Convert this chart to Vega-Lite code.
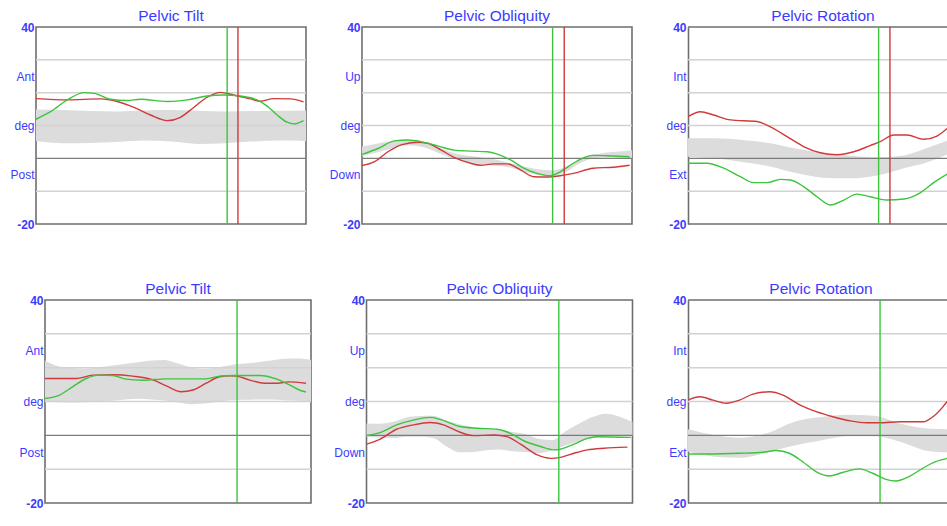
{
  "$schema": "https://vega.github.io/schema/vega-lite/v6.json",
  "background": "white",
  "padding": {"left": 9, "top": 7, "right": 0, "bottom": 0},
  "config": {
    "view": {"stroke": "#6e6e6e", "strokeWidth": 1.6},
    "title": {"color": "#3b3bff", "font": "Liberation Sans", "fontSize": 15.5, "fontWeight": "normal", "offset": 2, "dy": 5},
    "axis": {"labelFont": "Liberation Sans", "labelFontSize": 12, "labelColor": "#3b3bff", "ticks": false, "domain": false, "grid": false, "labelPadding": 2}
  },
  "datasets": {
    "grid": [
      {"y": 30, "kind": "minor"}, {"y": 20, "kind": "minor"}, {"y": 10, "kind": "minor"}, {"y": -10, "kind": "minor"},
      {"y": 0, "kind": "zero"}, {"y": 40, "kind": "border"}, {"y": -20, "kind": "border"}
    ],
    "events": [
      {"p": "A", "s": "L", "x": 70.8}, {"p": "A", "s": "R", "x": 74.8},
      {"p": "B", "s": "L", "x": 70.6}, {"p": "B", "s": "R", "x": 74.9},
      {"p": "C", "s": "L", "x": 70.6}, {"p": "C", "s": "R", "x": 74.8},
      {"p": "D", "s": "L", "x": 72.2},
      {"p": "E", "s": "L", "x": 72.3},
      {"p": "F", "s": "L", "x": 72.2}
    ],
    "band": [
      {"p": "A", "x": 0, "hi": 14.9, "lo": 5.3}, {"p": "A", "x": 10, "hi": 14.7, "lo": 4.6}, {"p": "A", "x": 20, "hi": 14.4, "lo": 4.7}, {"p": "A", "x": 30, "hi": 14.3, "lo": 5.0}, {"p": "A", "x": 40, "hi": 14.6, "lo": 5.4}, {"p": "A", "x": 50, "hi": 14.7, "lo": 5.1}, {"p": "A", "x": 60, "hi": 14.5, "lo": 4.4}, {"p": "A", "x": 70, "hi": 14.3, "lo": 4.6}, {"p": "A", "x": 80, "hi": 14.4, "lo": 5.1}, {"p": "A", "x": 90, "hi": 14.5, "lo": 5.4}, {"p": "A", "x": 100, "hi": 14.6, "lo": 5.3},
      {"p": "B", "x": 0, "hi": 3.6, "lo": 0.7}, {"p": "B", "x": 5, "hi": 4.4, "lo": 1.7}, {"p": "B", "x": 10, "hi": 5.1, "lo": 2.8}, {"p": "B", "x": 15, "hi": 5.6, "lo": 4.0}, {"p": "B", "x": 20, "hi": 5.3, "lo": 3.8}, {"p": "B", "x": 25, "hi": 4.2, "lo": 2.8}, {"p": "B", "x": 30, "hi": 2.8, "lo": 1.1}, {"p": "B", "x": 35, "hi": 1.4, "lo": -0.3}, {"p": "B", "x": 40, "hi": 0.7, "lo": -1.3}, {"p": "B", "x": 45, "hi": 0.2, "lo": -1.9}, {"p": "B", "x": 50, "hi": -0.4, "lo": -2.3}, {"p": "B", "x": 55, "hi": -1.5, "lo": -2.8}, {"p": "B", "x": 60, "hi": -2.5, "lo": -4.1}, {"p": "B", "x": 65, "hi": -3.3, "lo": -5.1}, {"p": "B", "x": 70, "hi": -3.6, "lo": -5.5}, {"p": "B", "x": 75, "hi": -2.8, "lo": -4.4}, {"p": "B", "x": 80, "hi": -0.6, "lo": -1.8}, {"p": "B", "x": 85, "hi": 1.0, "lo": -0.1}, {"p": "B", "x": 90, "hi": 1.7, "lo": 0.3}, {"p": "B", "x": 95, "hi": 2.1, "lo": 0.2}, {"p": "B", "x": 100, "hi": 2.5, "lo": 0.1},
      {"p": "C", "x": 0, "hi": 6.1, "lo": 0.5}, {"p": "C", "x": 10, "hi": 6.1, "lo": 0.0}, {"p": "C", "x": 20, "hi": 5.6, "lo": -1.1}, {"p": "C", "x": 30, "hi": 4.7, "lo": -2.4}, {"p": "C", "x": 40, "hi": 3.0, "lo": -4.5}, {"p": "C", "x": 50, "hi": 1.6, "lo": -5.9}, {"p": "C", "x": 60, "hi": 0.8, "lo": -6.1}, {"p": "C", "x": 70, "hi": 0.3, "lo": -5.2}, {"p": "C", "x": 80, "hi": 0.9, "lo": -3.0}, {"p": "C", "x": 90, "hi": 3.6, "lo": -0.8}, {"p": "C", "x": 96, "hi": 5.4, "lo": 1.2},
      {"p": "D", "x": 0, "hi": 22.1, "lo": 10.0}, {"p": "D", "x": 5, "hi": 20.4, "lo": 9.8}, {"p": "D", "x": 10, "hi": 19.9, "lo": 9.7}, {"p": "D", "x": 15, "hi": 19.7, "lo": 9.8}, {"p": "D", "x": 20, "hi": 20.1, "lo": 9.9}, {"p": "D", "x": 25, "hi": 20.6, "lo": 10.2}, {"p": "D", "x": 30, "hi": 21.1, "lo": 10.6}, {"p": "D", "x": 35, "hi": 21.6, "lo": 10.8}, {"p": "D", "x": 40, "hi": 22.1, "lo": 10.6}, {"p": "D", "x": 45, "hi": 22.3, "lo": 10.3}, {"p": "D", "x": 50, "hi": 21.2, "lo": 9.7}, {"p": "D", "x": 55, "hi": 20.1, "lo": 9.2}, {"p": "D", "x": 60, "hi": 19.6, "lo": 9.4}, {"p": "D", "x": 65, "hi": 20.1, "lo": 9.9}, {"p": "D", "x": 70, "hi": 20.8, "lo": 10.4}, {"p": "D", "x": 75, "hi": 21.2, "lo": 10.5}, {"p": "D", "x": 80, "hi": 21.6, "lo": 10.6}, {"p": "D", "x": 85, "hi": 22.1, "lo": 10.6}, {"p": "D", "x": 90, "hi": 22.6, "lo": 10.4}, {"p": "D", "x": 95, "hi": 22.7, "lo": 10.2}, {"p": "D", "x": 100, "hi": 22.3, "lo": 10.1},
      {"p": "E", "x": 0, "hi": 3.5, "lo": -0.4}, {"p": "E", "x": 5, "hi": 3.4, "lo": -0.7}, {"p": "E", "x": 10, "hi": 4.0, "lo": -0.8}, {"p": "E", "x": 15, "hi": 5.3, "lo": -0.4}, {"p": "E", "x": 20, "hi": 5.7, "lo": -0.4}, {"p": "E", "x": 25, "hi": 5.8, "lo": -0.8}, {"p": "E", "x": 30, "hi": 4.3, "lo": -3.2}, {"p": "E", "x": 35, "hi": 3.3, "lo": -5.0}, {"p": "E", "x": 40, "hi": 2.4, "lo": -4.9}, {"p": "E", "x": 45, "hi": 2.0, "lo": -4.4}, {"p": "E", "x": 50, "hi": 1.6, "lo": -4.2}, {"p": "E", "x": 55, "hi": 1.0, "lo": -4.7}, {"p": "E", "x": 60, "hi": 0.3, "lo": -4.9}, {"p": "E", "x": 65, "hi": -1.1, "lo": -5.2}, {"p": "E", "x": 70, "hi": -1.4, "lo": -4.4}, {"p": "E", "x": 75, "hi": 1.3, "lo": -2.9}, {"p": "E", "x": 80, "hi": 3.5, "lo": -1.8}, {"p": "E", "x": 85, "hi": 5.4, "lo": -0.8}, {"p": "E", "x": 90, "hi": 6.4, "lo": -0.3}, {"p": "E", "x": 95, "hi": 5.6, "lo": -0.2}, {"p": "E", "x": 100, "hi": 4.0, "lo": -0.2},
      {"p": "F", "x": 0, "hi": 1.8, "lo": -4.8}, {"p": "F", "x": 10, "hi": 0.1, "lo": -6.3}, {"p": "F", "x": 20, "hi": -0.7, "lo": -6.6}, {"p": "F", "x": 30, "hi": 0.7, "lo": -5.0}, {"p": "F", "x": 40, "hi": 4.0, "lo": -3.0}, {"p": "F", "x": 50, "hi": 5.4, "lo": -1.5}, {"p": "F", "x": 60, "hi": 6.1, "lo": -0.3}, {"p": "F", "x": 70, "hi": 5.8, "lo": -0.3}, {"p": "F", "x": 80, "hi": 3.4, "lo": -2.0}, {"p": "F", "x": 90, "hi": 2.0, "lo": -4.6}, {"p": "F", "x": 97.4, "hi": 1.8, "lo": -5.0}
    ],
    "curves": [
      {"p": "A", "s": "R", "x": 0, "y": 18.2}, {"p": "A", "s": "R", "x": 11.6, "y": 17.8}, {"p": "A", "s": "R", "x": 23.9, "y": 18.1}, {"p": "A", "s": "R", "x": 30.1, "y": 17.3}, {"p": "A", "s": "R", "x": 36.3, "y": 15.5}, {"p": "A", "s": "R", "x": 42.4, "y": 13.2}, {"p": "A", "s": "R", "x": 48.6, "y": 11.5}, {"p": "A", "s": "R", "x": 53.5, "y": 12.5}, {"p": "A", "s": "R", "x": 58.4, "y": 15.5}, {"p": "A", "s": "R", "x": 63.4, "y": 18.6}, {"p": "A", "s": "R", "x": 68.3, "y": 20.1}, {"p": "A", "s": "R", "x": 73.2, "y": 19.3}, {"p": "A", "s": "R", "x": 79.4, "y": 18.1}, {"p": "A", "s": "R", "x": 83.1, "y": 17.4}, {"p": "A", "s": "R", "x": 88.0, "y": 18.2}, {"p": "A", "s": "R", "x": 94.2, "y": 18.1}, {"p": "A", "s": "R", "x": 99.1, "y": 17.2},
      {"p": "A", "s": "L", "x": 0, "y": 11.9}, {"p": "A", "s": "L", "x": 5.4, "y": 14.2}, {"p": "A", "s": "L", "x": 11.6, "y": 17.8}, {"p": "A", "s": "L", "x": 17.8, "y": 20.0}, {"p": "A", "s": "L", "x": 21.5, "y": 19.8}, {"p": "A", "s": "L", "x": 27.6, "y": 18.0}, {"p": "A", "s": "L", "x": 33.8, "y": 17.6}, {"p": "A", "s": "L", "x": 38.7, "y": 18.0}, {"p": "A", "s": "L", "x": 48.6, "y": 17.3}, {"p": "A", "s": "L", "x": 56.0, "y": 17.8}, {"p": "A", "s": "L", "x": 63.4, "y": 19.0}, {"p": "A", "s": "L", "x": 69.5, "y": 19.3}, {"p": "A", "s": "L", "x": 75.7, "y": 19.0}, {"p": "A", "s": "L", "x": 81.9, "y": 17.8}, {"p": "A", "s": "L", "x": 85.6, "y": 15.9}, {"p": "A", "s": "L", "x": 89.3, "y": 13.2}, {"p": "A", "s": "L", "x": 93.0, "y": 11.0}, {"p": "A", "s": "L", "x": 95.5, "y": 10.5}, {"p": "A", "s": "L", "x": 99.1, "y": 11.5},
      {"p": "B", "s": "R", "x": 0, "y": -2.2}, {"p": "B", "s": "R", "x": 4.7, "y": -1.0}, {"p": "B", "s": "R", "x": 9.6, "y": 2.0}, {"p": "B", "s": "R", "x": 14.5, "y": 4.1}, {"p": "B", "s": "R", "x": 20.6, "y": 4.9}, {"p": "B", "s": "R", "x": 24.3, "y": 4.6}, {"p": "B", "s": "R", "x": 29.4, "y": 2.5}, {"p": "B", "s": "R", "x": 34.1, "y": 0.3}, {"p": "B", "s": "R", "x": 40.2, "y": -1.5}, {"p": "B", "s": "R", "x": 43.9, "y": -2.1}, {"p": "B", "s": "R", "x": 48.9, "y": -1.7}, {"p": "B", "s": "R", "x": 53.8, "y": -1.7}, {"p": "B", "s": "R", "x": 58.7, "y": -3.5}, {"p": "B", "s": "R", "x": 63.6, "y": -5.6}, {"p": "B", "s": "R", "x": 68.5, "y": -5.7}, {"p": "B", "s": "R", "x": 73.4, "y": -5.3}, {"p": "B", "s": "R", "x": 78.3, "y": -4.6}, {"p": "B", "s": "R", "x": 85.6, "y": -3.0}, {"p": "B", "s": "R", "x": 93.0, "y": -2.7}, {"p": "B", "s": "R", "x": 99.1, "y": -2.1},
      {"p": "B", "s": "L", "x": 0, "y": 1.2}, {"p": "B", "s": "L", "x": 5.9, "y": 3.0}, {"p": "B", "s": "L", "x": 12.0, "y": 5.3}, {"p": "B", "s": "L", "x": 16.9, "y": 5.6}, {"p": "B", "s": "L", "x": 21.8, "y": 5.1}, {"p": "B", "s": "L", "x": 28.0, "y": 3.8}, {"p": "B", "s": "L", "x": 34.1, "y": 2.5}, {"p": "B", "s": "L", "x": 40.2, "y": 2.2}, {"p": "B", "s": "L", "x": 46.4, "y": 2.0}, {"p": "B", "s": "L", "x": 50.1, "y": 1.3}, {"p": "B", "s": "L", "x": 55.0, "y": -0.5}, {"p": "B", "s": "L", "x": 59.9, "y": -3.0}, {"p": "B", "s": "L", "x": 64.8, "y": -4.6}, {"p": "B", "s": "L", "x": 69.7, "y": -5.3}, {"p": "B", "s": "L", "x": 73.4, "y": -4.1}, {"p": "B", "s": "L", "x": 78.3, "y": -1.5}, {"p": "B", "s": "L", "x": 83.2, "y": 0.5}, {"p": "B", "s": "L", "x": 85.6, "y": 0.9}, {"p": "B", "s": "L", "x": 93.0, "y": 0.7}, {"p": "B", "s": "L", "x": 99.1, "y": 0.5},
      {"p": "C", "s": "R", "x": 0, "y": 12.7}, {"p": "C", "s": "R", "x": 4.6, "y": 14.2}, {"p": "C", "s": "R", "x": 9.5, "y": 13.2}, {"p": "C", "s": "R", "x": 15.7, "y": 11.7}, {"p": "C", "s": "R", "x": 25.6, "y": 11.2}, {"p": "C", "s": "R", "x": 30.5, "y": 9.6}, {"p": "C", "s": "R", "x": 36.7, "y": 6.6}, {"p": "C", "s": "R", "x": 42.8, "y": 3.6}, {"p": "C", "s": "R", "x": 49.0, "y": 1.7}, {"p": "C", "s": "R", "x": 55.2, "y": 1.1}, {"p": "C", "s": "R", "x": 61.4, "y": 2.0}, {"p": "C", "s": "R", "x": 67.5, "y": 3.9}, {"p": "C", "s": "R", "x": 71.2, "y": 5.1}, {"p": "C", "s": "R", "x": 76.2, "y": 7.1}, {"p": "C", "s": "R", "x": 81.1, "y": 7.1}, {"p": "C", "s": "R", "x": 87.3, "y": 5.8}, {"p": "C", "s": "R", "x": 92.2, "y": 6.8}, {"p": "C", "s": "R", "x": 96.0, "y": 9.1},
      {"p": "C", "s": "L", "x": 0, "y": -1.5}, {"p": "C", "s": "L", "x": 7.0, "y": -1.5}, {"p": "C", "s": "L", "x": 13.2, "y": -3.0}, {"p": "C", "s": "L", "x": 19.4, "y": -5.6}, {"p": "C", "s": "L", "x": 24.3, "y": -7.4}, {"p": "C", "s": "L", "x": 29.3, "y": -7.4}, {"p": "C", "s": "L", "x": 34.2, "y": -6.4}, {"p": "C", "s": "L", "x": 37.9, "y": -6.6}, {"p": "C", "s": "L", "x": 42.8, "y": -8.6}, {"p": "C", "s": "L", "x": 47.8, "y": -11.7}, {"p": "C", "s": "L", "x": 52.7, "y": -14.2}, {"p": "C", "s": "L", "x": 57.7, "y": -12.7}, {"p": "C", "s": "L", "x": 62.6, "y": -10.9}, {"p": "C", "s": "L", "x": 67.5, "y": -11.7}, {"p": "C", "s": "L", "x": 73.7, "y": -12.7}, {"p": "C", "s": "L", "x": 79.9, "y": -12.4}, {"p": "C", "s": "L", "x": 86.0, "y": -10.5}, {"p": "C", "s": "L", "x": 91.0, "y": -7.4}, {"p": "C", "s": "L", "x": 96.0, "y": -4.8},
      {"p": "D", "s": "R", "x": 0, "y": 16.8}, {"p": "D", "s": "R", "x": 11.8, "y": 16.8}, {"p": "D", "s": "R", "x": 18.0, "y": 17.8}, {"p": "D", "s": "R", "x": 25.5, "y": 17.9}, {"p": "D", "s": "R", "x": 33.0, "y": 17.5}, {"p": "D", "s": "R", "x": 40.6, "y": 16.4}, {"p": "D", "s": "R", "x": 45.6, "y": 14.6}, {"p": "D", "s": "R", "x": 51.2, "y": 12.9}, {"p": "D", "s": "R", "x": 55.6, "y": 13.4}, {"p": "D", "s": "R", "x": 60.6, "y": 15.4}, {"p": "D", "s": "R", "x": 65.6, "y": 17.3}, {"p": "D", "s": "R", "x": 69.3, "y": 17.6}, {"p": "D", "s": "R", "x": 72.1, "y": 17.5}, {"p": "D", "s": "R", "x": 76.7, "y": 16.4}, {"p": "D", "s": "R", "x": 82.6, "y": 15.4}, {"p": "D", "s": "R", "x": 87.6, "y": 15.4}, {"p": "D", "s": "R", "x": 91.4, "y": 15.8}, {"p": "D", "s": "R", "x": 98.1, "y": 15.4},
      {"p": "D", "s": "L", "x": 0, "y": 10.9}, {"p": "D", "s": "L", "x": 5.5, "y": 11.9}, {"p": "D", "s": "L", "x": 10.5, "y": 14.4}, {"p": "D", "s": "L", "x": 15.5, "y": 16.8}, {"p": "D", "s": "L", "x": 20.5, "y": 17.8}, {"p": "D", "s": "L", "x": 25.5, "y": 17.7}, {"p": "D", "s": "L", "x": 30.5, "y": 16.6}, {"p": "D", "s": "L", "x": 36.8, "y": 16.3}, {"p": "D", "s": "L", "x": 45.6, "y": 16.7}, {"p": "D", "s": "L", "x": 60.6, "y": 16.7}, {"p": "D", "s": "L", "x": 65.6, "y": 17.5}, {"p": "D", "s": "L", "x": 70.6, "y": 17.7}, {"p": "D", "s": "L", "x": 80.6, "y": 17.7}, {"p": "D", "s": "L", "x": 86.9, "y": 16.7}, {"p": "D", "s": "L", "x": 91.9, "y": 14.9}, {"p": "D", "s": "L", "x": 95.6, "y": 13.4}, {"p": "D", "s": "L", "x": 98.1, "y": 12.8},
      {"p": "E", "s": "R", "x": 0, "y": -2.6}, {"p": "E", "s": "R", "x": 5.0, "y": -1.2}, {"p": "E", "s": "R", "x": 11.3, "y": 1.8}, {"p": "E", "s": "R", "x": 17.6, "y": 3.1}, {"p": "E", "s": "R", "x": 23.9, "y": 3.8}, {"p": "E", "s": "R", "x": 28.9, "y": 3.1}, {"p": "E", "s": "R", "x": 35.2, "y": 0.9}, {"p": "E", "s": "R", "x": 40.3, "y": -0.1}, {"p": "E", "s": "R", "x": 47.8, "y": 0.1}, {"p": "E", "s": "R", "x": 52.8, "y": -0.4}, {"p": "E", "s": "R", "x": 57.9, "y": -2.6}, {"p": "E", "s": "R", "x": 64.2, "y": -5.8}, {"p": "E", "s": "R", "x": 69.2, "y": -6.8}, {"p": "E", "s": "R", "x": 73.0, "y": -6.5}, {"p": "E", "s": "R", "x": 78.0, "y": -5.3}, {"p": "E", "s": "R", "x": 83.0, "y": -4.3}, {"p": "E", "s": "R", "x": 89.3, "y": -3.8}, {"p": "E", "s": "R", "x": 98.1, "y": -3.5},
      {"p": "E", "s": "L", "x": 0, "y": -0.1}, {"p": "E", "s": "L", "x": 5.0, "y": 0.8}, {"p": "E", "s": "L", "x": 11.3, "y": 3.1}, {"p": "E", "s": "L", "x": 17.6, "y": 4.5}, {"p": "E", "s": "L", "x": 23.9, "y": 5.3}, {"p": "E", "s": "L", "x": 27.7, "y": 4.7}, {"p": "E", "s": "L", "x": 35.2, "y": 2.6}, {"p": "E", "s": "L", "x": 41.5, "y": 2.1}, {"p": "E", "s": "L", "x": 49.1, "y": 1.8}, {"p": "E", "s": "L", "x": 54.1, "y": 0.6}, {"p": "E", "s": "L", "x": 59.1, "y": -1.6}, {"p": "E", "s": "L", "x": 65.4, "y": -3.3}, {"p": "E", "s": "L", "x": 70.4, "y": -4.3}, {"p": "E", "s": "L", "x": 72.9, "y": -4.1}, {"p": "E", "s": "L", "x": 78.0, "y": -2.6}, {"p": "E", "s": "L", "x": 83.0, "y": -0.9}, {"p": "E", "s": "L", "x": 86.8, "y": -0.4}, {"p": "E", "s": "L", "x": 99.4, "y": -0.6},
      {"p": "F", "s": "R", "x": 0, "y": 10.4}, {"p": "F", "s": "R", "x": 4.4, "y": 11.4}, {"p": "F", "s": "R", "x": 9.4, "y": 10.4}, {"p": "F", "s": "R", "x": 14.4, "y": 9.5}, {"p": "F", "s": "R", "x": 19.4, "y": 10.4}, {"p": "F", "s": "R", "x": 24.4, "y": 12.2}, {"p": "F", "s": "R", "x": 30.7, "y": 12.9}, {"p": "F", "s": "R", "x": 35.7, "y": 11.9}, {"p": "F", "s": "R", "x": 42.0, "y": 9.0}, {"p": "F", "s": "R", "x": 48.2, "y": 7.0}, {"p": "F", "s": "R", "x": 54.5, "y": 5.5}, {"p": "F", "s": "R", "x": 60.8, "y": 4.3}, {"p": "F", "s": "R", "x": 67.0, "y": 3.7}, {"p": "F", "s": "R", "x": 72.1, "y": 3.7}, {"p": "F", "s": "R", "x": 79.6, "y": 4.0}, {"p": "F", "s": "R", "x": 88.3, "y": 4.0}, {"p": "F", "s": "R", "x": 92.1, "y": 5.5}, {"p": "F", "s": "R", "x": 95.9, "y": 8.5}, {"p": "F", "s": "R", "x": 97.4, "y": 10.0},
      {"p": "F", "s": "L", "x": 0, "y": -5.5}, {"p": "F", "s": "L", "x": 6.9, "y": -5.5}, {"p": "F", "s": "L", "x": 19.4, "y": -5.3}, {"p": "F", "s": "L", "x": 28.2, "y": -5.0}, {"p": "F", "s": "L", "x": 33.1, "y": -4.5}, {"p": "F", "s": "L", "x": 38.1, "y": -5.3}, {"p": "F", "s": "L", "x": 43.1, "y": -7.8}, {"p": "F", "s": "L", "x": 48.1, "y": -10.7}, {"p": "F", "s": "L", "x": 53.1, "y": -12.0}, {"p": "F", "s": "L", "x": 58.1, "y": -11.0}, {"p": "F", "s": "L", "x": 64.4, "y": -9.9}, {"p": "F", "s": "L", "x": 69.4, "y": -11.2}, {"p": "F", "s": "L", "x": 74.4, "y": -13.0}, {"p": "F", "s": "L", "x": 78.1, "y": -13.5}, {"p": "F", "s": "L", "x": 83.1, "y": -12.2}, {"p": "F", "s": "L", "x": 88.1, "y": -9.8}, {"p": "F", "s": "L", "x": 93.1, "y": -7.8}, {"p": "F", "s": "L", "x": 97.4, "y": -6.8}
    ]
  },
  "spacing": 49,
  "vconcat": [
    {
      "bounds": "flush",
      "spacing": 56,
      "hconcat": [
        {
          "width": 270, "height": 197,
          "title": "Pelvic Tilt",
          "layer": [
            {"data": {"name": "band"}, "transform": [{"filter": "datum.p === 'A'"}], "mark": {"type": "area", "color": "#dcdcdc", "interpolate": "monotone"},
             "encoding": {"x": {"field": "x", "type": "quantitative", "scale": {"domain": [0, 100], "nice": false}, "axis": null},
                          "y": {"field": "hi", "type": "quantitative", "scale": {"domain": [-20, 40]}, "axis": {"title": null, "values": [40, 25, 10, -5, -20], "labelExpr": "datum.value == 25 ? 'Ant' : datum.value == 10 ? 'deg' : datum.value == -5 ? 'Post' : datum.value == -20 ? '-20' : '40'", "labelFontWeight": {"condition": {"test": "datum.value == 40 || datum.value == -20", "value": "bold"}, "value": "normal"}}},
                          "y2": {"field": "lo"}}},
            {"data": {"name": "grid"}, "transform": [{"filter": "datum.kind === 'minor'"}], "mark": {"type": "rule", "color": "#d2d2d2", "strokeWidth": 1.5}, "encoding": {"y": {"field": "y", "type": "quantitative"}}},
            {"data": {"name": "grid"}, "transform": [{"filter": "datum.kind === 'zero'"}], "mark": {"type": "rule", "color": "#7c7c7c", "strokeWidth": 1.3}, "encoding": {"y": {"field": "y", "type": "quantitative"}}},
            {"data": {"name": "curves"}, "transform": [{"filter": "datum.p === 'A'"}], "mark": {"type": "line", "interpolate": "monotone", "strokeWidth": 1.4},
             "encoding": {"x": {"field": "x", "type": "quantitative", "axis": null}, "y": {"field": "y", "type": "quantitative"},
                          "color": {"field": "s", "type": "nominal", "scale": {"domain": ["R", "L"], "range": ["#d03a3a", "#3cc43c"]}, "legend": null}}},
            {"data": {"name": "events"}, "transform": [{"filter": "datum.p === 'A'"}], "mark": {"type": "rule", "strokeWidth": 1.4},
             "encoding": {"x": {"field": "x", "type": "quantitative", "axis": null}, "color": {"field": "s", "type": "nominal", "legend": null}}}
          ]
        },
        {
          "width": 270, "height": 197,
          "title": "Pelvic Obliquity",
          "layer": [
            {"data": {"name": "band"}, "transform": [{"filter": "datum.p === 'B'"}], "mark": {"type": "area", "color": "#dcdcdc", "interpolate": "monotone"},
             "encoding": {"x": {"field": "x", "type": "quantitative", "scale": {"domain": [0, 100], "nice": false}, "axis": null},
                          "y": {"field": "hi", "type": "quantitative", "scale": {"domain": [-20, 40]}, "axis": {"title": null, "values": [40, 25, 10, -5, -20], "labelExpr": "datum.value == 25 ? 'Up' : datum.value == 10 ? 'deg' : datum.value == -5 ? 'Down' : datum.value == -20 ? '-20' : '40'", "labelFontWeight": {"condition": {"test": "datum.value == 40 || datum.value == -20", "value": "bold"}, "value": "normal"}}},
                          "y2": {"field": "lo"}}},
            {"data": {"name": "grid"}, "transform": [{"filter": "datum.kind === 'minor'"}], "mark": {"type": "rule", "color": "#d2d2d2", "strokeWidth": 1.5}, "encoding": {"y": {"field": "y", "type": "quantitative"}}},
            {"data": {"name": "grid"}, "transform": [{"filter": "datum.kind === 'zero'"}], "mark": {"type": "rule", "color": "#7c7c7c", "strokeWidth": 1.3}, "encoding": {"y": {"field": "y", "type": "quantitative"}}},
            {"data": {"name": "curves"}, "transform": [{"filter": "datum.p === 'B'"}], "mark": {"type": "line", "interpolate": "monotone", "strokeWidth": 1.4},
             "encoding": {"x": {"field": "x", "type": "quantitative", "axis": null}, "y": {"field": "y", "type": "quantitative"},
                          "color": {"field": "s", "type": "nominal", "scale": {"domain": ["R", "L"], "range": ["#d03a3a", "#3cc43c"]}, "legend": null}}},
            {"data": {"name": "events"}, "transform": [{"filter": "datum.p === 'B'"}], "mark": {"type": "rule", "strokeWidth": 1.4},
             "encoding": {"x": {"field": "x", "type": "quantitative", "axis": null}, "color": {"field": "s", "type": "nominal", "legend": null}}}
          ]
        },
        {
          "width": 259, "height": 197,
          "title": {"text": "Pelvic Rotation", "dx": 5.5},
          "view": {"stroke": null},
          "layer": [
            {"data": {"name": "band"}, "transform": [{"filter": "datum.p === 'C'"}], "mark": {"type": "area", "color": "#dcdcdc", "interpolate": "monotone", "clip": true},
             "encoding": {"x": {"field": "x", "type": "quantitative", "scale": {"domain": [0, 95.93], "nice": false}, "axis": null},
                          "y": {"field": "hi", "type": "quantitative", "scale": {"domain": [-20, 40]}, "axis": {"title": null, "values": [40, 25, 10, -5, -20], "domain": true, "domainColor": "#6e6e6e", "domainWidth": 1.6, "labelExpr": "datum.value == 25 ? 'Int' : datum.value == 10 ? 'deg' : datum.value == -5 ? 'Ext' : datum.value == -20 ? '-20' : '40'", "labelFontWeight": {"condition": {"test": "datum.value == 40 || datum.value == -20", "value": "bold"}, "value": "normal"}}},
                          "y2": {"field": "lo"}}},
            {"data": {"name": "grid"}, "transform": [{"filter": "datum.kind === 'minor'"}], "mark": {"type": "rule", "color": "#d2d2d2", "strokeWidth": 1.5}, "encoding": {"y": {"field": "y", "type": "quantitative"}}},
            {"data": {"name": "grid"}, "transform": [{"filter": "datum.kind === 'zero'"}], "mark": {"type": "rule", "color": "#7c7c7c", "strokeWidth": 1.3}, "encoding": {"y": {"field": "y", "type": "quantitative"}}},
            {"data": {"name": "grid"}, "transform": [{"filter": "datum.kind === 'border'"}], "mark": {"type": "rule", "color": "#6e6e6e", "strokeWidth": 1.6}, "encoding": {"y": {"field": "y", "type": "quantitative"}}},
            {"data": {"name": "curves"}, "transform": [{"filter": "datum.p === 'C'"}], "mark": {"type": "line", "interpolate": "monotone", "strokeWidth": 1.4, "clip": true},
             "encoding": {"x": {"field": "x", "type": "quantitative", "axis": null}, "y": {"field": "y", "type": "quantitative"},
                          "color": {"field": "s", "type": "nominal", "scale": {"domain": ["R", "L"], "range": ["#d03a3a", "#3cc43c"]}, "legend": null}}},
            {"data": {"name": "events"}, "transform": [{"filter": "datum.p === 'C'"}], "mark": {"type": "rule", "strokeWidth": 1.4},
             "encoding": {"x": {"field": "x", "type": "quantitative", "axis": null}, "color": {"field": "s", "type": "nominal", "legend": null}}}
          ]
        }
      ]
    },
    {
      "bounds": "flush",
      "spacing": 0,
      "hconcat": [
        {"width": 9, "height": 203, "view": {"stroke": null}, "data": {"values": []}, "mark": {"type": "point", "opacity": 0}},
        {
          "bounds": "flush",
          "spacing": 55.5,
          "hconcat": [
            {
              "width": 266, "height": 203,
              "title": "Pelvic Tilt",
              "layer": [
                {"data": {"name": "band"}, "transform": [{"filter": "datum.p === 'D'"}], "mark": {"type": "area", "color": "#dcdcdc", "interpolate": "monotone"},
                 "encoding": {"x": {"field": "x", "type": "quantitative", "scale": {"domain": [0, 100], "nice": false}, "axis": null},
                              "y": {"field": "hi", "type": "quantitative", "scale": {"domain": [-20, 40]}, "axis": {"title": null, "values": [40, 25, 10, -5, -20], "labelExpr": "datum.value == 25 ? 'Ant' : datum.value == 10 ? 'deg' : datum.value == -5 ? 'Post' : datum.value == -20 ? '-20' : '40'", "labelFontWeight": {"condition": {"test": "datum.value == 40 || datum.value == -20", "value": "bold"}, "value": "normal"}}},
                              "y2": {"field": "lo"}}},
                {"data": {"name": "grid"}, "transform": [{"filter": "datum.kind === 'minor'"}], "mark": {"type": "rule", "color": "#d2d2d2", "strokeWidth": 1.5}, "encoding": {"y": {"field": "y", "type": "quantitative"}}},
                {"data": {"name": "grid"}, "transform": [{"filter": "datum.kind === 'zero'"}], "mark": {"type": "rule", "color": "#7c7c7c", "strokeWidth": 1.3}, "encoding": {"y": {"field": "y", "type": "quantitative"}}},
                {"data": {"name": "curves"}, "transform": [{"filter": "datum.p === 'D'"}], "mark": {"type": "line", "interpolate": "monotone", "strokeWidth": 1.4},
                 "encoding": {"x": {"field": "x", "type": "quantitative", "axis": null}, "y": {"field": "y", "type": "quantitative"},
                              "color": {"field": "s", "type": "nominal", "scale": {"domain": ["R", "L"], "range": ["#d03a3a", "#3cc43c"]}, "legend": null}}},
                {"data": {"name": "events"}, "transform": [{"filter": "datum.p === 'D'"}], "mark": {"type": "rule", "strokeWidth": 1.4},
                 "encoding": {"x": {"field": "x", "type": "quantitative", "axis": null}, "color": {"field": "s", "type": "nominal", "legend": null}}}
              ]
            },
            {
              "width": 266, "height": 203,
              "title": "Pelvic Obliquity",
              "layer": [
                {"data": {"name": "band"}, "transform": [{"filter": "datum.p === 'E'"}], "mark": {"type": "area", "color": "#dcdcdc", "interpolate": "monotone"},
                 "encoding": {"x": {"field": "x", "type": "quantitative", "scale": {"domain": [0, 100], "nice": false}, "axis": null},
                              "y": {"field": "hi", "type": "quantitative", "scale": {"domain": [-20, 40]}, "axis": {"title": null, "values": [40, 25, 10, -5, -20], "labelExpr": "datum.value == 25 ? 'Up' : datum.value == 10 ? 'deg' : datum.value == -5 ? 'Down' : datum.value == -20 ? '-20' : '40'", "labelFontWeight": {"condition": {"test": "datum.value == 40 || datum.value == -20", "value": "bold"}, "value": "normal"}}},
                              "y2": {"field": "lo"}}},
                {"data": {"name": "grid"}, "transform": [{"filter": "datum.kind === 'minor'"}], "mark": {"type": "rule", "color": "#d2d2d2", "strokeWidth": 1.5}, "encoding": {"y": {"field": "y", "type": "quantitative"}}},
                {"data": {"name": "grid"}, "transform": [{"filter": "datum.kind === 'zero'"}], "mark": {"type": "rule", "color": "#7c7c7c", "strokeWidth": 1.3}, "encoding": {"y": {"field": "y", "type": "quantitative"}}},
                {"data": {"name": "curves"}, "transform": [{"filter": "datum.p === 'E'"}], "mark": {"type": "line", "interpolate": "monotone", "strokeWidth": 1.4},
                 "encoding": {"x": {"field": "x", "type": "quantitative", "axis": null}, "y": {"field": "y", "type": "quantitative"},
                              "color": {"field": "s", "type": "nominal", "scale": {"domain": ["R", "L"], "range": ["#d03a3a", "#3cc43c"]}, "legend": null}}},
                {"data": {"name": "events"}, "transform": [{"filter": "datum.p === 'E'"}], "mark": {"type": "rule", "strokeWidth": 1.4},
                 "encoding": {"x": {"field": "x", "type": "quantitative", "axis": null}, "color": {"field": "s", "type": "nominal", "legend": null}}}
              ]
            },
            {
              "width": 259, "height": 203,
              "title": {"text": "Pelvic Rotation", "dx": 3.5},
              "view": {"stroke": null},
              "layer": [
                {"data": {"name": "band"}, "transform": [{"filter": "datum.p === 'F'"}], "mark": {"type": "area", "color": "#dcdcdc", "interpolate": "monotone", "clip": true},
                 "encoding": {"x": {"field": "x", "type": "quantitative", "scale": {"domain": [0, 97.37], "nice": false}, "axis": null},
                              "y": {"field": "hi", "type": "quantitative", "scale": {"domain": [-20, 40]}, "axis": {"title": null, "values": [40, 25, 10, -5, -20], "domain": true, "domainColor": "#6e6e6e", "domainWidth": 1.6, "labelExpr": "datum.value == 25 ? 'Int' : datum.value == 10 ? 'deg' : datum.value == -5 ? 'Ext' : datum.value == -20 ? '-20' : '40'", "labelFontWeight": {"condition": {"test": "datum.value == 40 || datum.value == -20", "value": "bold"}, "value": "normal"}}},
                              "y2": {"field": "lo"}}},
                {"data": {"name": "grid"}, "transform": [{"filter": "datum.kind === 'minor'"}], "mark": {"type": "rule", "color": "#d2d2d2", "strokeWidth": 1.5}, "encoding": {"y": {"field": "y", "type": "quantitative"}}},
                {"data": {"name": "grid"}, "transform": [{"filter": "datum.kind === 'zero'"}], "mark": {"type": "rule", "color": "#7c7c7c", "strokeWidth": 1.3}, "encoding": {"y": {"field": "y", "type": "quantitative"}}},
                {"data": {"name": "grid"}, "transform": [{"filter": "datum.kind === 'border'"}], "mark": {"type": "rule", "color": "#6e6e6e", "strokeWidth": 1.6}, "encoding": {"y": {"field": "y", "type": "quantitative"}}},
                {"data": {"name": "curves"}, "transform": [{"filter": "datum.p === 'F'"}], "mark": {"type": "line", "interpolate": "monotone", "strokeWidth": 1.4, "clip": true},
                 "encoding": {"x": {"field": "x", "type": "quantitative", "axis": null}, "y": {"field": "y", "type": "quantitative"},
                              "color": {"field": "s", "type": "nominal", "scale": {"domain": ["R", "L"], "range": ["#d03a3a", "#3cc43c"]}, "legend": null}}},
                {"data": {"name": "events"}, "transform": [{"filter": "datum.p === 'F'"}], "mark": {"type": "rule", "strokeWidth": 1.4},
                 "encoding": {"x": {"field": "x", "type": "quantitative", "axis": null}, "color": {"field": "s", "type": "nominal", "legend": null}}}
              ]
            }
          ]
        }
      ]
    }
  ]
}
